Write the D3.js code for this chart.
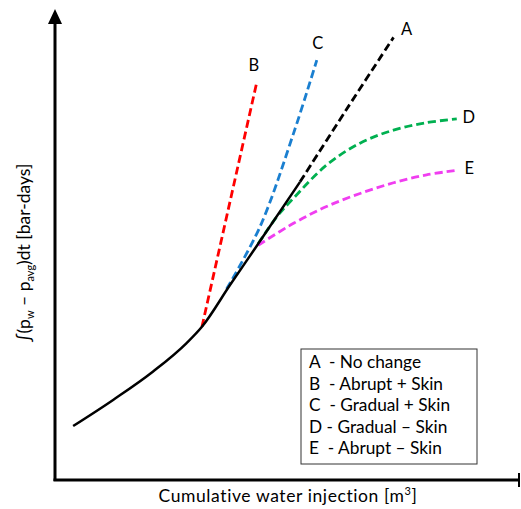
<!DOCTYPE html>
<html>
<head>
<meta charset="utf-8">
<script src="https://cdn.jsdelivr.net/npm/d3@7"></script>
<style>
  body { margin: 0; background: #fff; }
  svg { display: block; font-family: Lato, "Open Sans", sans-serif; }
</style>
</head>
<body>
<div id="chart"></div>
<script>
// schematic units (0-100 on both axes)
const solidBase = [[3.9, 11.8], [12.5, 17.4], [21.1, 23.5], [28.3, 29.6], [31.6, 33.1], [37.6, 42.0], [43.7, 50.9], [52.7, 64.2]];
const seriesA = [[52.7, 64.2], [62.6, 79.6], [72.8, 95.2]];
const seriesB = [[31.6, 33.1], [43.4, 85.6]];
const seriesC = [[36.9, 41.2], [44.1, 54.6], [51.3, 74.6], [56.3, 90.3]];
const seriesD = [[43.7, 50.9], [47.7, 56.7], [51.3, 60.7], [58.4, 67.8], [65.6, 72.5], [72.8, 75.3], [79.9, 76.9], [86.4, 77.7]];
const seriesE = [[43.7, 50.6], [51.3, 55.3], [58.4, 58.9], [65.6, 61.7], [72.8, 64.0], [79.9, 65.7], [86.7, 66.7]];
const seriesNames = ['A', 'B', 'C', 'D', 'E'];
const legendLabels = ['A  - No change', 'B  - Abrupt + Skin', 'C  - Gradual + Skin', 'D - Gradual \u2013 Skin', 'E  - Abrupt \u2013 Skin'];

const W = 521, H = 509;
const svg = d3.select('#chart').append('svg').attr('width', W).attr('height', H);

const x = d3.scaleLinear().domain([0, 100]).range([55, 520]);
const y = d3.scaleLinear().domain([0, 100]).range([481, 15]);

const line = d3.line().x(d => x(d[0])).y(d => y(d[1])).curve(d3.curveCatmullRom.alpha(0.5));
const baseLine = d3.line().x(d => x(d[0])).y(d => y(d[1])).curve(d3.curveMonotoneX);

// axes
svg.append('line').attr('x1', 55).attr('x2', 55).attr('y1', 481).attr('y2', 20)
  .attr('stroke', '#000').attr('stroke-width', 3);
svg.append('path').attr('d', 'M48,24 L55,9 L62,24 Z').attr('fill', '#000');
svg.append('line').attr('x1', 53.5).attr('x2', 519).attr('y1', 480).attr('y2', 480)
  .attr('stroke', '#000').attr('stroke-width', 3);
svg.append('line').attr('x1', 519).attr('x2', 519).attr('y1', 473).attr('y2', 487)
  .attr('stroke', '#000').attr('stroke-width', 2);

const dashed = [
  { d: seriesB, color: '#ff0000' },
  { d: seriesC, color: '#1a7fd0' },
  { d: seriesD, color: '#00b050' },
  { d: seriesE, color: '#f03ef0' },
  { d: seriesA, color: '#000' }
];
svg.append('g').selectAll('path').data(dashed).enter().append('path')
  .attr('d', s => line(s.d))
  .attr('fill', 'none').attr('stroke', s => s.color)
  .attr('stroke-width', 2.8).attr('stroke-dasharray', '8,4');

svg.append('path').attr('d', baseLine(solidBase))
  .attr('fill', 'none').attr('stroke', '#000').attr('stroke-width', 2.5);

// end labels
const ends = [seriesA, seriesB, seriesC, seriesD, seriesE];
const offs = [[13, -7], [-3, -15], [1, -15], [12, 0], [11, 0]];
svg.append('g').selectAll('text').data(ends).enter().append('text')
  .attr('x', (s, i) => x(s[s.length - 1][0]) + offs[i][0])
  .attr('y', (s, i) => y(s[s.length - 1][1]) + offs[i][1])
  .attr('text-anchor', 'middle')
  .attr('dominant-baseline', 'middle')
  .attr('font-size', 16.5)
  .text((s, i) => seriesNames[i]);

// legend
const lg = svg.append('g');
lg.append('rect').attr('x', 301).attr('y', 349).attr('width', 176).attr('height', 115)
  .attr('fill', '#fff').attr('stroke', '#333').attr('stroke-width', 1);
lg.selectAll('text').data(legendLabels).enter().append('text')
  .attr('x', 309).attr('y', (d, i) => 364 + i * 21.4)
  .attr('dominant-baseline', 'middle').attr('font-size', 17.3)
  .attr('xml:space', 'preserve').style('white-space', 'pre')
  .text(d => d);

// axis titles
svg.append('text').attr('x', 288).attr('y', 498).attr('text-anchor', 'middle')
  .attr('dominant-baseline', 'middle').attr('font-size', 17.5)
  .attr('letter-spacing', 0.6)
  .html('Cumulative water injection [m<tspan dy="-6" font-size="11">3</tspan><tspan dy="6">]</tspan>');

svg.append('text').attr('transform', 'translate(30,253) rotate(-90)')
  .attr('text-anchor', 'middle').attr('font-size', 17.5)
  .html('\u222B(p<tspan dy="4" font-size="11">w</tspan><tspan dy="-4"> \u2013 p</tspan><tspan dy="4" font-size="11">avg</tspan><tspan dy="-4">)dt [bar-days]</tspan>');
</script>
</body>
</html>
